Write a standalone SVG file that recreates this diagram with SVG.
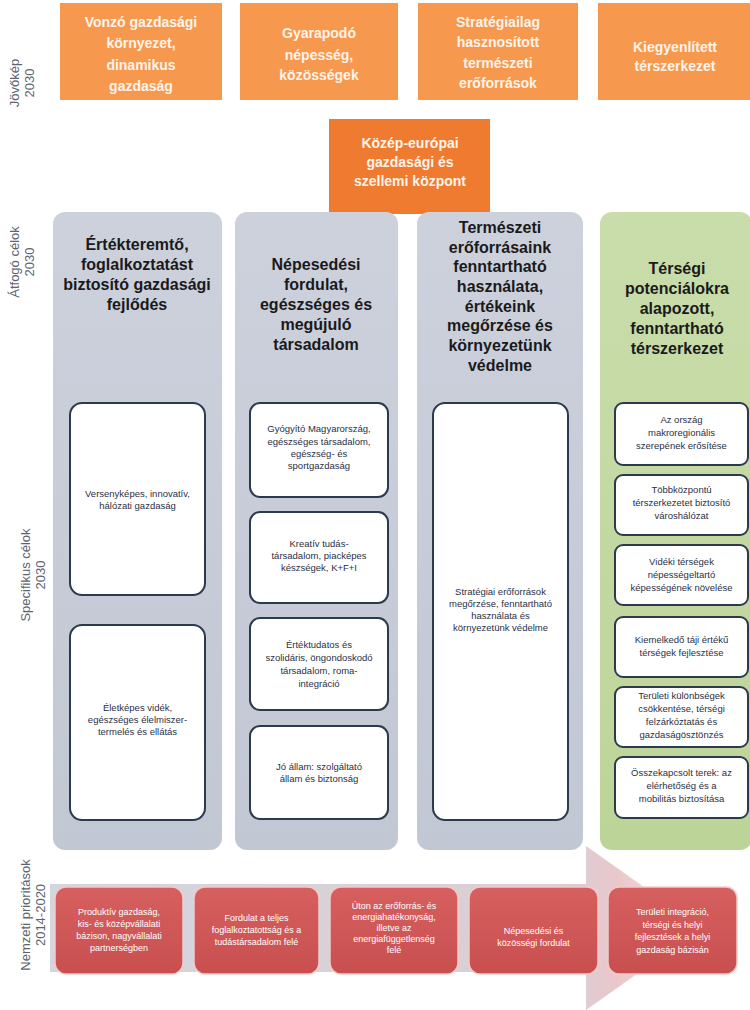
<svg xmlns="http://www.w3.org/2000/svg" width="750" height="1010" viewBox="0 0 750 1010">
<defs>
<linearGradient id="gCol" x1="0" y1="0" x2="0" y2="1">
<stop offset="0" stop-color="#cdd1dc"/><stop offset="1" stop-color="#c2c7d4"/>
</linearGradient>
<linearGradient id="gGreen" x1="0" y1="0" x2="0" y2="1">
<stop offset="0" stop-color="#c9ddab"/><stop offset="1" stop-color="#bdd498"/>
</linearGradient>
<linearGradient id="gRed" x1="0" y1="0" x2="0" y2="1">
<stop offset="0" stop-color="#d6605f"/><stop offset="1" stop-color="#c94f4f"/>
</linearGradient>
<linearGradient id="gArrow" x1="50" y1="0" x2="710" y2="0" gradientUnits="userSpaceOnUse">
<stop offset="0" stop-color="#d3d6de"/><stop offset="0.8" stop-color="#dccdd3"/><stop offset="0.86" stop-color="#ebc7cb"/><stop offset="1" stop-color="#f8e8ea"/>
</linearGradient>
<style>
.lbl{font-family:"Liberation Sans",Arial,sans-serif;font-size:13px;fill:#5d6470;text-anchor:middle}
.top{fill:#f7984f}
.topt{font-family:"Liberation Sans",Arial,sans-serif;font-size:14px;font-weight:bold;fill:#fff4ea;text-anchor:middle}
.ctr{fill:#ee7b2f}
.col{fill:url(#gCol)}
.grn{fill:url(#gGreen)}
.head{font-family:"Liberation Sans",Arial,sans-serif;font-size:16px;font-weight:bold;fill:#1a1a1a;text-anchor:middle}
.sb{fill:#ffffff;stroke:#2c3a4d;stroke-width:2}
.st{font-family:"Liberation Sans",Arial,sans-serif;font-size:9.5px;fill:#2a3045;text-anchor:middle}
.rb{fill:url(#gRed);stroke:#f1caca;stroke-width:1.5}
.rt{font-family:"Liberation Sans",Arial,sans-serif;font-size:9px;fill:#ffffff;text-anchor:middle}
</style>
</defs>
<rect width="750" height="1010" fill="#ffffff"/>

<g id="arrow"><polygon points="50,884 586,884 586,846 702,928 586,1010 586,972 50,972" fill="url(#gArrow)"/></g>

<g id="labels">
<text class="lbl" transform="translate(19,83) rotate(-90)">Jövőkép</text>
<text class="lbl" transform="translate(34,83) rotate(-90)">2030</text>
<text class="lbl" transform="translate(19,262) rotate(-90)">Átfogó célok</text>
<text class="lbl" transform="translate(34,262) rotate(-90)">2030</text>
<text class="lbl" transform="translate(30,575) rotate(-90)">Specifikus célok</text>
<text class="lbl" transform="translate(45,575) rotate(-90)">2030</text>
<text class="lbl" transform="translate(30,915) rotate(-90)">Nemzeti prioritások</text>
<text class="lbl" transform="translate(45,915) rotate(-90)">2014-2020</text>
</g>

<g id="vision1"><rect class="top" x="60" y="3" width="162" height="97"/>
<text class="topt"><tspan x="141" y="27">Vonzó gazdasági</tspan><tspan x="141" y="48">környezet,</tspan><tspan x="141" y="70">dinamikus</tspan><tspan x="141" y="91">gazdaság</tspan></text></g>
<g id="vision2"><rect class="top" x="240" y="3" width="158" height="97"/>
<text class="topt"><tspan x="319" y="38">Gyarapodó</tspan><tspan x="319" y="60">népesség,</tspan><tspan x="319" y="80">közösségek</tspan></text></g>
<g id="vision3"><rect class="top" x="418" y="3" width="160" height="97"/>
<text class="topt"><tspan x="498" y="27">Stratégiailag</tspan><tspan x="498" y="47">hasznosított</tspan><tspan x="498" y="68">természeti</tspan><tspan x="498" y="88">erőforrások</tspan></text></g>
<g id="vision4"><rect class="top" x="598" y="3" width="152" height="97"/>
<text class="topt"><tspan x="675" y="52">Kiegyenlített</tspan><tspan x="675" y="71">térszerkezet</tspan></text></g>

<g id="center"><rect class="ctr" x="329" y="119" width="161" height="95"/>
<text class="topt"><tspan x="410" y="148">Közép-európai</tspan><tspan x="410" y="167">gazdasági és</tspan><tspan x="410" y="186">szellemi központ</tspan></text></g>

<g id="col1"><rect class="col" x="53" y="212" width="169" height="638" rx="12"/>
<text class="head"><tspan x="137" y="250">Értékteremtő,</tspan><tspan x="137" y="270">foglalkoztatást</tspan><tspan x="137" y="290">biztosító gazdasági</tspan><tspan x="137" y="310">fejlődés</tspan></text></g>
<g id="col2"><rect class="col" x="235" y="212" width="163" height="638" rx="12"/>
<text class="head"><tspan x="316" y="270">Népesedési</tspan><tspan x="316" y="290">fordulat,</tspan><tspan x="316" y="310">egészséges és</tspan><tspan x="316" y="330">megújuló</tspan><tspan x="316" y="350">társadalom</tspan></text></g>
<g id="col3"><rect class="col" x="417" y="212" width="166" height="638" rx="12"/>
<text class="head"><tspan x="500" y="233">Természeti</tspan><tspan x="500" y="253">erőforrásaink</tspan><tspan x="500" y="272">fenntartható</tspan><tspan x="500" y="292">használata,</tspan><tspan x="500" y="312">értékeink</tspan><tspan x="500" y="331">megőrzése és</tspan><tspan x="500" y="351">környezetünk</tspan><tspan x="500" y="371">védelme</tspan></text></g>
<g id="col4"><rect class="grn" x="600" y="212" width="152" height="638" rx="12"/>
<text class="head"><tspan x="677" y="274">Térségi</tspan><tspan x="677" y="294">potenciálokra</tspan><tspan x="677" y="314">alapozott,</tspan><tspan x="677" y="334">fenntartható</tspan><tspan x="677" y="354">térszerkezet</tspan></text></g>

<g id="sg1a"><rect class="sb" x="70" y="403" width="135" height="192" rx="12"/>
<text class="st"><tspan x="137.5" y="497">Versenyképes, innovatív,</tspan><tspan x="137.5" y="509">hálózati gazdaság</tspan></text></g>
<g id="sg1b"><rect class="sb" x="70" y="625" width="135" height="195" rx="12"/>
<text class="st"><tspan x="137.5" y="711">Életképes vidék,</tspan><tspan x="137.5" y="723">egészséges élelmiszer-</tspan><tspan x="137.5" y="735">termelés és ellátás</tspan></text></g>

<g id="sg2a"><rect class="sb" x="250" y="403" width="138" height="94" rx="10"/>
<text class="st"><tspan x="319" y="432">Gyógyító Magyarország,</tspan><tspan x="319" y="445">egészséges társadalom,</tspan><tspan x="319" y="457">egészség- és</tspan><tspan x="319" y="469">sportgazdaság</tspan></text></g>
<g id="sg2b"><rect class="sb" x="250" y="512" width="138" height="91" rx="10"/>
<text class="st"><tspan x="319" y="547">Kreatív tudás-</tspan><tspan x="319" y="559">társadalom, piacképes</tspan><tspan x="319" y="571">készségek, K+F+I</tspan></text></g>
<g id="sg2c"><rect class="sb" x="250" y="618" width="138" height="92" rx="10"/>
<text class="st"><tspan x="319" y="648">Értéktudatos és</tspan><tspan x="319" y="661">szolidáris, öngondoskodó</tspan><tspan x="319" y="674">társadalom, roma-</tspan><tspan x="319" y="687">integráció</tspan></text></g>
<g id="sg2d"><rect class="sb" x="250" y="726" width="138" height="93" rx="10"/>
<text class="st"><tspan x="319" y="770">Jó állam: szolgáltató</tspan><tspan x="319" y="782">állam és biztonság</tspan></text></g>

<g id="sg3"><rect class="sb" x="433" y="403" width="135" height="417" rx="12"/>
<text class="st"><tspan x="500.5" y="595">Stratégiai erőforrások</tspan><tspan x="500.5" y="607">megőrzése, fenntartható</tspan><tspan x="500.5" y="619">használata és</tspan><tspan x="500.5" y="631">környezetünk védelme</tspan></text></g>

<g id="sg4a"><rect class="sb" x="615" y="403" width="133" height="62" rx="8"/>
<text class="st"><tspan x="681.5" y="423">Az ország</tspan><tspan x="681.5" y="436">makroregionális</tspan><tspan x="681.5" y="449">szerepének erősítése</tspan></text></g>
<g id="sg4b"><rect class="sb" x="615" y="475" width="133" height="60" rx="8"/>
<text class="st"><tspan x="681.5" y="493">Többközpontú</tspan><tspan x="681.5" y="506">térszerkezetet biztosító</tspan><tspan x="681.5" y="519">városhálózat</tspan></text></g>
<g id="sg4c"><rect class="sb" x="615" y="545" width="133" height="60" rx="8"/>
<text class="st"><tspan x="681.5" y="565">Vidéki térségek</tspan><tspan x="681.5" y="578">népességeltartó</tspan><tspan x="681.5" y="591">képességének növelése</tspan></text></g>
<g id="sg4d"><rect class="sb" x="615" y="617" width="133" height="60" rx="8"/>
<text class="st"><tspan x="681.5" y="643">Kiemelkedő táji értékű</tspan><tspan x="681.5" y="656">térségek fejlesztése</tspan></text></g>
<g id="sg4e"><rect class="sb" x="615" y="687" width="133" height="60" rx="8"/>
<text class="st"><tspan x="681.5" y="699">Területi különbségek</tspan><tspan x="681.5" y="712">csökkentése, térségi</tspan><tspan x="681.5" y="725">felzárkóztatás és</tspan><tspan x="681.5" y="738">gazdaságösztönzés</tspan></text></g>
<g id="sg4f"><rect class="sb" x="615" y="757" width="133" height="61" rx="8"/>
<text class="st"><tspan x="681.5" y="776">Összekapcsolt terek: az</tspan><tspan x="681.5" y="789">elérhetőség és a</tspan><tspan x="681.5" y="802">mobilitás biztosítása</tspan></text></g>

<g id="np1"><rect class="rb" x="55" y="887" width="128" height="87" rx="11"/>
<text class="rt"><tspan x="119" y="915">Produktív gazdaság,</tspan><tspan x="119" y="927">kis- és középvállalati</tspan><tspan x="119" y="939">bázison, nagyvállalati</tspan><tspan x="119" y="951">partnerségben</tspan></text></g>
<g id="np2"><rect class="rb" x="194" y="887" width="125" height="87" rx="11"/>
<text class="rt"><tspan x="256.5" y="921">Fordulat a teljes</tspan><tspan x="256.5" y="933">foglalkoztatottság és a</tspan><tspan x="256.5" y="945">tudástársadalom felé</tspan></text></g>
<g id="np3"><rect class="rb" x="330" y="887" width="128" height="87" rx="11"/>
<text class="rt"><tspan x="394" y="909">Úton az erőforrás- és</tspan><tspan x="394" y="920">energiahatékonyság,</tspan><tspan x="394" y="931">illetve az</tspan><tspan x="394" y="942">energiafüggetlenség</tspan><tspan x="394" y="953">felé</tspan></text></g>
<g id="np4"><rect class="rb" x="469" y="887" width="129" height="87" rx="11"/>
<text class="rt"><tspan x="533.5" y="934">Népesedési és</tspan><tspan x="533.5" y="946">közösségi fordulat</tspan></text></g>
<g id="np5"><rect class="rb" x="608" y="887" width="129" height="87" rx="11"/>
<text class="rt"><tspan x="672.5" y="915">Területi integráció,</tspan><tspan x="672.5" y="928">térségi és helyi</tspan><tspan x="672.5" y="940">fejlesztések a helyi</tspan><tspan x="672.5" y="953">gazdaság bázisán</tspan></text></g>
</svg>
